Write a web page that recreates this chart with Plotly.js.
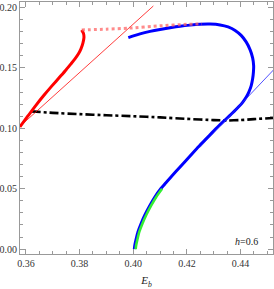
<!DOCTYPE html>
<html><head><meta charset="utf-8">
<script src="https://cdn.plot.ly/plotly-3.0.1.min.js"></script>
<style>html,body{margin:0;padding:0;background:#fff;}#chart{width:274px;height:289px;}</style>
</head><body><div id="chart"></div>
<script>
// thick red branch
const redX = [0.35776,0.36075,0.36373,0.36672,0.36970,0.37269,0.37493,0.37679,0.37828,0.37959,0.38052,0.38127,0.38164,0.38146,0.38078];
const redY = [0.1012,0.1102,0.1190,0.1273,0.1351,0.1426,0.1483,0.1533,0.1574,0.1616,0.1657,0.1707,0.1752,0.1785,0.1814];
// thin red tangent line
const redLineX = [0.3578,0.4075];
const redLineY = [0.1017,0.2012];
// dotted red connection
const redDotX = [0.3808,0.3900,0.3980,0.4100,0.4200,0.4256];
const redDotY = [0.1814,0.1820,0.1828,0.1848,0.1860,0.1864];
// thick blue branch
const blueX = [0.39817,0.40254,0.40627,0.41000,0.41373,0.41746,0.42119,0.42493,0.42866,0.43239,0.43537,0.43799,0.44022,0.44209,0.44358,0.44451,0.44489,0.44481,0.44451,0.44396,0.44313,0.44209,0.44078,0.43929,0.43761,0.43575,0.43388,0.43164,0.42940,0.42716,0.42493,0.42119,0.41746,0.41448,0.41187,0.41026,0.40813,0.40627,0.40440,0.40291,0.40179,0.40104,0.40056,0.40041];
const blueY = [0.17504,0.17810,0.18017,0.18182,0.18322,0.18446,0.18537,0.18603,0.18620,0.18554,0.18388,0.18099,0.17686,0.17149,0.16488,0.15826,0.15165,0.14669,0.14091,0.13512,0.13017,0.12562,0.12149,0.11777,0.11405,0.11008,0.10620,0.10149,0.09645,0.09132,0.08620,0.07702,0.06793,0.06074,0.05413,0.05000,0.04339,0.03636,0.02851,0.02107,0.01446,0.00785,0.00289,0.00000];
// thin blue tangent line
const blueLineX = [0.4249,0.4525];
const blueLineY = [0.0843,0.1488];
// green segment
const greenX = [0.41076,0.40863,0.40677,0.40490,0.40341,0.40229,0.40154,0.40106,0.40091];
const greenY = [0.05000,0.04339,0.03636,0.02851,0.02107,0.01446,0.00785,0.00289,0.00000];
// black dash-dot curve
const blackX = [0.3621,0.3700,0.3800,0.3900,0.4000,0.4100,0.4200,0.4300,0.4350,0.4400,0.4450,0.4521];
const blackY = [0.1140,0.1128,0.1117,0.1108,0.1100,0.1090,0.1078,0.1068,0.1065,0.1068,0.1076,0.1085];
// tick labels
const xTicks = [0.36,0.38,0.40,0.42,0.44];
const xTickText = ['0.36','0.38','0.40','0.42','0.44'];
const yTicks = [0.00,0.05,0.10,0.15,0.20];
const yTickText = ['0.00','0.05','0.10','0.15','0.20'];

const traces = [
  {x: blackX, y: blackY, mode:'lines', line:{color:'#000', width:2.6, dash:'dashdot', shape:'spline', smoothing:0.6}},
  {x: blueX, y: blueY, mode:'lines', line:{color:'#0000ff', width:3, shape:'spline', smoothing:0.6}},
  {x: blueLineX, y: blueLineY, mode:'lines', line:{color:'rgba(40,40,255,0.8)', width:1}},
  {x: greenX, y: greenY, mode:'lines', line:{color:'#33ee33', width:2.6, shape:'spline', smoothing:0.6}},
  {x: redLineX, y: redLineY, mode:'lines', line:{color:'rgba(255,0,0,0.85)', width:0.9}},
  {x: redX, y: redY, mode:'lines', line:{color:'#ff0000', width:3, shape:'spline', smoothing:0.6}},
  {x: redDotX, y: redDotY, mode:'lines', line:{color:'rgba(255,100,100,0.75)', width:3, dash:'dot', shape:'spline', smoothing:0.6}}
];

const axisCommon = {
  showline:true, linecolor:'#999', linewidth:1, mirror:'allticks',
  ticks:'inside', ticklen:5, tickcolor:'#999', tickwidth:1,
  showgrid:false, zeroline:false,
  tickfont:{family:'Liberation Serif', size:10, color:'#333'}
};

const layout = {
  width:274, height:289,
  margin:{l:20, r:1, t:2, b:35},
  paper_bgcolor:'#fff', plot_bgcolor:'#fff',
  showlegend:false,
  xaxis: Object.assign({}, axisCommon, {
    range:[0.3578,0.4521], tickvals:xTicks, ticktext:xTickText,
    minor:{dtick:0.005, tick0:0.36, ticklen:3, tickcolor:'#999', ticks:'inside'},
    title:{text:'<i>E</i><sub><i>b</i></sub>', font:{family:'Liberation Serif', size:11, color:'#222'}, standoff:8}
  }),
  yaxis: Object.assign({}, axisCommon, {
    range:[-0.004,0.2045], tickvals:yTicks, ticktext:yTickText,
    minor:{dtick:0.01, tick0:0, ticklen:3, tickcolor:'#999', ticks:'inside'}
  }),
  annotations:[{
    xref:'paper', yref:'paper', x:0.895, y:0.05, xanchor:'center', yanchor:'middle',
    text:'<i>h</i>=0.6', showarrow:false,
    font:{family:'Liberation Serif', size:10, color:'#222'}
  }]
};

Plotly.newPlot('chart', traces, layout, {displayModeBar:false, staticPlot:true});
</script>
</body></html>
